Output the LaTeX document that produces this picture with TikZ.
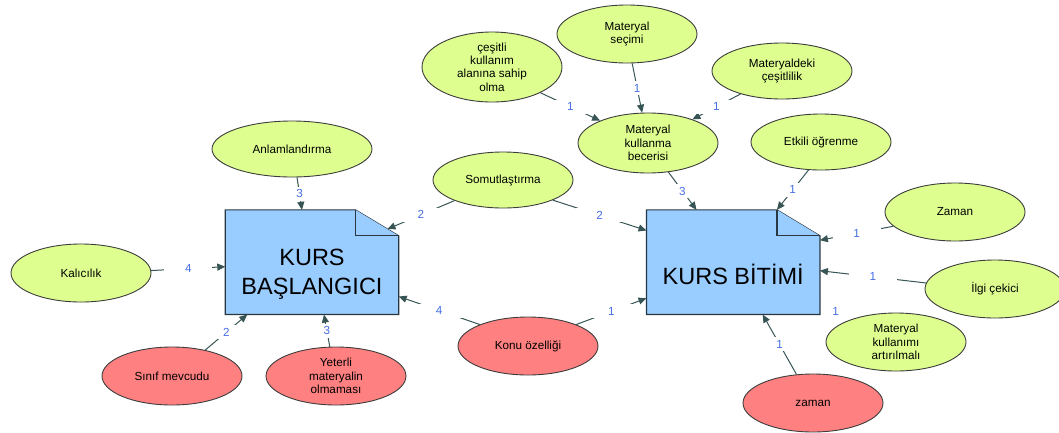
\documentclass[tikz,border=0pt]{standalone}
\usepackage{fontspec}
\setmainfont{Liberation Sans}
\usetikzlibrary{shapes.geometric,arrows.meta,calc}
\definecolor{ellgreen}{RGB}{222,255,143}
\definecolor{ellred}{RGB}{255,128,128}
\definecolor{boxblue}{RGB}{153,204,255}
\definecolor{edgecol}{RGB}{55,85,85}
\definecolor{lblblue}{RGB}{70,110,230}
\definecolor{bordercol}{RGB}{60,60,60}
\definecolor{boxborder}{RGB}{40,55,65}
\pgfdeclarelayer{background}
\pgfsetlayers{background,main}
\tikzset{
 ell/.style={ellipse, draw=bordercol, line width=0.9pt, inner sep=0pt, align=center,
   minimum width=140pt, minimum height=58pt, font=\fontsize{11.7}{13.4}\selectfont},
 gell/.style={ell, fill=ellgreen},
 rell/.style={ell, fill=ellred},
 docbox/.style={rectangle, inner sep=0pt, minimum width=173pt, minimum height=104.3pt},
 docshape/.style={fill=boxblue, draw=boxborder, line width=1.2pt, line join=miter},
 doctext/.style={align=center, font=\fontsize{23.5}{28.4}\selectfont},
 conn/.style={draw=edgecol, line width=1pt, -{Triangle[length=8pt,width=7pt]}},
 plainconn/.style={draw=edgecol, line width=1pt},
 lbl/.style={fill=white, text=lblblue, minimum width=48pt, minimum height=14pt,
   inner sep=0pt, font=\fontsize{11.7}{13.4}\selectfont},
}
\begin{document}
\begin{tikzpicture}[x=1pt,y=-1pt]
\useasboundingbox (0,0) rectangle (1059,432);

% document boxes
\node[docbox] (kb) at (312,262.2) {};
\coordinate (kbf1) at ([xshift=-43.3pt]kb.north east);
\coordinate (kbf2) at ([yshift=-26pt]kb.north east);
\draw[docshape] (kb.south west) -- (kb.north west) -- (kbf1) -- (kbf2) -- (kb.south east) -- cycle;
\draw[docshape] (kbf1) |- (kbf2);
\node[doctext] (kbt) at ([yshift=-12pt]kb.center) {KURS\\BAŞLANGICI};

\node[docbox] (kbit) at (733.2,262.2) {};
\coordinate (kbitf1) at ([xshift=-43pt]kbit.north east);
\coordinate (kbitf2) at ([yshift=-26pt]kbit.north east);
\draw[docshape] (kbit.south west) -- (kbit.north west) -- (kbitf1) -- (kbitf2) -- (kbit.south east) -- cycle;
\draw[docshape] (kbitf1) |- (kbitf2);
\node[doctext] (kbitt) at ([yshift=-12.5pt]kbit.center) {KURS BİTİMİ};

% ellipses
\node[gell, minimum width=160pt, minimum height=56pt] (anl) at (292,149) {Anlamlandırma};
\node[gell] (kal) at (81,273) {Kalıcılık};
\node[rell] (sinif) at (172,376) {Sınıf mevcudu};
\node[rell] (yet) at (336,376) {Yeterli\\materyalin\\olmaması};
\node[gell, minimum height=56pt] (som) at (503,180) {Somutlaştırma};
\node[gell, minimum height=60pt] (mkb) at (648,143) {Materyal\\kullanma\\becerisi};
\node[gell, minimum height=70pt] (ces) at (492,67) {çeşitli\\kullanım\\alanına sahip\\olma};
\node[gell] (sec) at (627,34) {Materyal\\seçimi};
\node[gell, minimum height=56pt] (cesl) at (782,71) {Materyaldeki\\çeşitlilik};
\node[gell, minimum height=56pt] (etk) at (821,142) {Etkili öğrenme};
\node[gell] (zam) at (955,212) {Zaman};
\node[gell] (ilg) at (995,289) {İlgi çekici};
\node[gell] (mka) at (896,342) {Materyal\\kullanımı\\artırılmalı};
\node[rell] (zr) at (813,403) {zaman};
\node[rell] (konu) at (528,346) {Konu özelliği};

% connectors
\begin{pgfonlayer}{background}
\draw[conn] (anl.-80) -- ([xshift=-10pt]kb.north) node[lbl, midway] {3};
\draw[conn] (kal.2) -- ([yshift=-4.5pt]kb.west) node[lbl, midway] {4};
\draw[conn] (som.203) -- ($(kbf1)!0.74!(kbf2)$) node[lbl, midway] {2};
\draw[conn] (som.-22) -- ([yshift=31.7pt]kbit.west) node[lbl, midway] {2};
\draw[conn] (konu.156) -- ([yshift=-34.3pt]kb.east) node[lbl, midway] {4};
\draw[conn] (konu.24) -- ([yshift=-36pt]kbit.west) node[lbl, midway] {1};
\draw[conn] (sinif.38) -- ([xshift=-64.7pt]kb.south) node[lbl, midway] {2};
\draw[conn] (yet.102) -- ([xshift=12pt]kb.south) node[lbl, midway] {3};
\draw[conn] (ces.-28) -- (mkb.155) node[lbl, midway] {1};
\draw[conn] (sec.-80) -- (mkb.101) node[lbl, midway] {1};
\draw[conn] (cesl.209) -- (mkb.28) node[lbl, midway] {1};
\draw[conn] (mkb.-55) -- ([xshift=-36.7pt]kbit.north) node[lbl, midway] {3};
\draw[conn] (etk.246) -- (kbitf1) node[lbl, midway] {1};
\draw[conn] (zam.193) -- ([yshift=22pt]kbit.east) node[lbl, midway] {1};
\draw[conn] (ilg.175) -- ([yshift=-8.5pt]kbit.east) node[lbl, midway] {1};
\draw[plainconn] ([yshift=-42pt]kbit.east) -- (mka.146) node[lbl, pos=0.4, yshift=-2pt] {1};
\draw[conn] (zr.120) -- ([xshift=29.5pt]kbit.south) node[lbl, midway] {1};
\end{pgfonlayer}
\end{tikzpicture}
\end{document}
